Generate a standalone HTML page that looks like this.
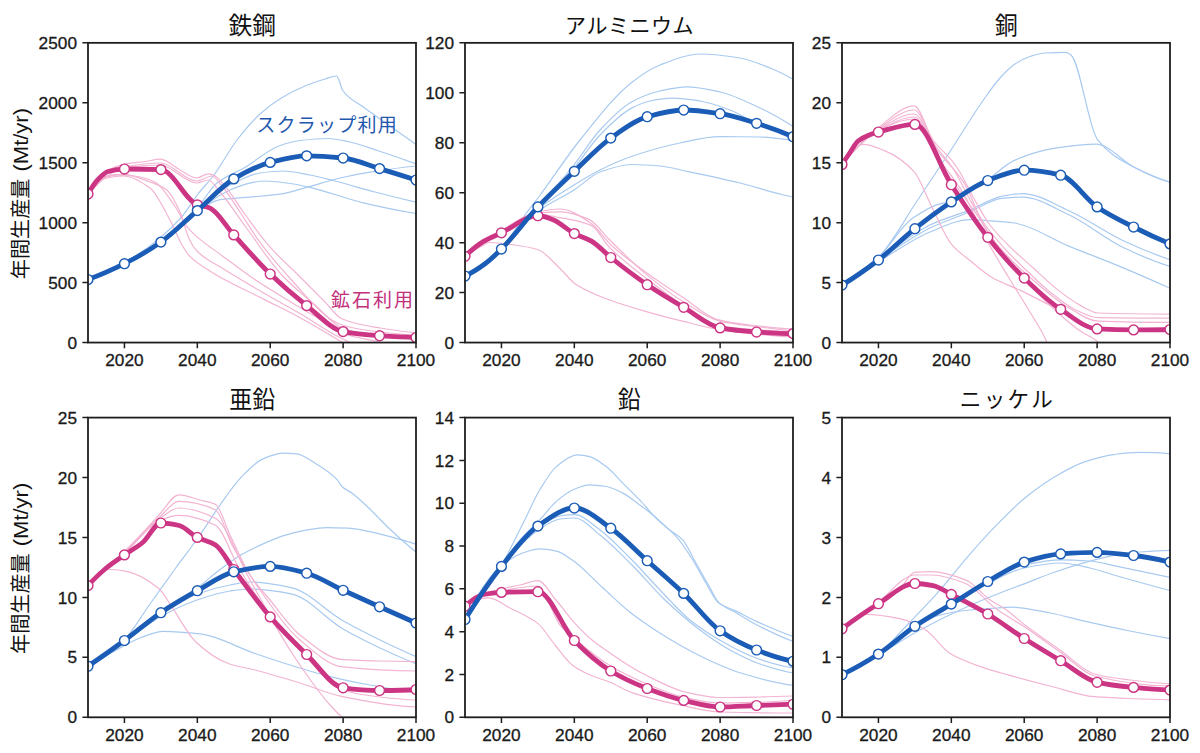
<!DOCTYPE html><html><head><meta charset="utf-8"><title>年間生産量</title><style>html,body{margin:0;padding:0;background:#fff;}svg{display:block;}.tk{font-family:"Liberation Sans",Arial,sans-serif;font-size:17px;fill:#1a1a1a;stroke:#1a1a1a;stroke-width:0.3px;}.tt{font-family:"Liberation Sans","Noto Sans CJK JP",sans-serif;font-size:21px;fill:#111;}.yl{font-family:"Liberation Sans","Noto Sans CJK JP",sans-serif;font-size:20.5px;fill:#111;}.an{font-family:"Liberation Sans","Noto Sans CJK JP",sans-serif;font-size:19px;}</style></head><body>
<svg width="1200" height="753" viewBox="0 0 1200 753">
<rect width="1200" height="753" fill="#fff"/>
<defs>
<clipPath id="c0"><rect x="88.00" y="42.85" width="328.00" height="299.70"/></clipPath>
<clipPath id="c1"><rect x="465.00" y="42.85" width="328.00" height="299.70"/></clipPath>
<clipPath id="c2"><rect x="842.00" y="42.85" width="328.00" height="299.70"/></clipPath>
<clipPath id="c3"><rect x="88.00" y="417.60" width="328.00" height="299.70"/></clipPath>
<clipPath id="c4"><rect x="465.00" y="417.60" width="328.00" height="299.70"/></clipPath>
<clipPath id="c5"><rect x="842.00" y="417.60" width="328.00" height="299.70"/></clipPath>
</defs>
<g clip-path="url(#c0)">
<path d="M88.00,279.00 C100.00,275.17 112.00,269.50 124.00,263.00 C136.00,256.50 148.00,247.88 160.00,238.00 C167.33,231.96 174.67,225.04 182.00,216.50 C187.33,210.29 192.67,200.87 198.00,194.00 C203.33,187.13 208.67,182.06 214.00,175.00 C221.67,164.85 229.33,149.95 237.00,140.00 C244.67,130.05 252.33,120.92 260.00,114.00 C266.83,107.83 273.67,102.65 280.50,98.50 C289.67,92.94 298.83,88.46 308.00,84.80 C313.67,82.54 319.33,80.66 325.00,79.00 C328.83,77.88 332.67,76.00 336.50,76.00 C337.33,76.00 338.17,78.30 339.00,80.00 C340.13,82.31 341.27,88.33 342.40,90.00 C349.27,100.14 356.13,101.57 363.00,106.80 C372.00,113.66 381.00,119.59 390.00,126.00 C398.87,132.32 407.73,138.65 416.60,145.00" fill="none" stroke="#a8caf0" stroke-width="1.2" stroke-linejoin="round"/>
<path d="M88.00,279.00 C100.00,274.67 112.00,269.18 124.00,263.00 C136.00,256.82 148.00,249.70 160.00,241.00 C172.33,232.06 184.67,221.06 197.00,208.00 C203.67,200.94 210.33,188.27 217.00,183.00 C226.53,175.46 236.07,172.67 245.60,167.00 C256.50,160.52 267.40,150.14 278.30,146.20 C285.53,143.58 292.77,141.33 300.00,140.50 C309.30,139.43 318.60,138.50 327.90,138.50 C335.27,138.50 342.63,140.48 350.00,142.00 C359.17,143.90 368.33,147.50 377.50,150.50 C390.33,154.70 403.17,159.19 416.00,164.00" fill="none" stroke="#a8caf0" stroke-width="1.2" stroke-linejoin="round"/>
<path d="M88.00,279.00 C100.00,274.50 112.00,269.05 124.00,263.00 C136.00,256.95 148.00,250.25 160.00,242.00 C172.33,233.52 184.67,218.49 197.00,211.00 C204.67,206.35 212.33,200.88 220.00,199.70 C228.53,198.39 237.07,198.18 245.60,197.40 C257.07,196.35 268.53,195.80 280.00,194.20 C288.90,192.96 297.80,189.69 306.70,187.30 C317.80,184.32 328.90,180.51 340.00,178.00 C351.07,175.50 362.13,173.44 373.20,171.70 C387.47,169.45 401.73,167.45 416.00,166.00" fill="none" stroke="#a8caf0" stroke-width="1.2" stroke-linejoin="round"/>
<path d="M88.00,279.00 C100.00,274.50 112.00,269.05 124.00,263.00 C136.00,256.95 148.00,250.35 160.00,242.00 C172.33,233.41 184.67,219.95 197.00,210.00 C208.00,201.13 219.00,190.73 230.00,185.00 C240.00,179.79 250.00,174.41 260.00,173.00 C267.53,171.94 275.07,171.00 282.60,171.00 C291.73,171.00 300.87,173.34 310.00,175.00 C318.33,176.52 326.67,178.88 335.00,181.00 C348.33,184.40 361.67,188.52 375.00,192.00 C388.67,195.57 402.33,198.98 416.00,202.20" fill="none" stroke="#a8caf0" stroke-width="1.2" stroke-linejoin="round"/>
<path d="M88.00,279.00 C100.00,274.50 112.00,269.05 124.00,263.00 C136.00,256.95 148.00,250.25 160.00,242.00 C172.33,233.52 184.67,219.90 197.00,211.00 C208.00,203.06 219.00,194.81 230.00,190.00 C236.67,187.09 243.33,184.45 250.00,183.10 C254.73,182.14 259.47,181.00 264.20,181.00 C272.80,181.00 281.40,182.37 290.00,183.50 C296.50,184.35 303.00,185.83 309.50,187.30 C327.43,191.36 345.37,198.64 363.30,202.90 C380.87,207.07 398.43,210.74 416.00,213.50" fill="none" stroke="#a8caf0" stroke-width="1.2" stroke-linejoin="round"/>
<path d="M88.00,194.00 C92.00,186.66 96.00,179.12 100.00,176.00 C108.07,169.70 116.13,165.83 124.20,164.20 C131.13,162.80 138.07,162.48 145.00,161.50 C150.17,160.77 155.33,159.10 160.50,159.10 C167.00,159.10 173.50,166.65 180.00,170.00 C185.57,172.87 191.13,178.00 196.70,178.00 C200.57,178.00 204.43,173.80 208.30,173.80 C210.53,173.80 212.77,174.92 215.00,176.00 C217.73,177.32 220.47,180.87 223.20,183.90 C230.97,192.51 238.73,206.03 246.50,216.50 C254.23,226.93 261.97,237.93 269.70,246.70 C279.00,257.24 288.30,265.20 297.60,274.50 C306.87,283.77 316.13,293.12 325.40,302.40 C330.83,307.84 336.27,316.39 341.70,318.70 C354.47,324.13 367.23,325.87 380.00,328.00 C392.00,330.00 404.00,331.74 416.00,332.60" fill="none" stroke="#f2b4d2" stroke-width="1.2" stroke-linejoin="round"/>
<path d="M88.00,194.00 C92.00,187.00 96.00,179.74 100.00,177.00 C108.00,171.52 116.00,168.45 124.00,167.00 C136.17,164.80 148.33,163.00 160.50,163.00 C172.57,163.00 184.63,181.00 196.70,181.00 C201.80,181.00 206.90,176.00 212.00,176.00 C215.33,176.00 218.67,182.13 222.00,186.00 C228.00,192.97 234.00,203.06 240.00,212.00 C246.00,220.94 252.00,231.51 258.00,239.70 C269.63,255.58 281.27,268.79 292.90,281.50 C305.27,295.01 317.63,310.61 330.00,318.70 C334.00,321.32 338.00,323.81 342.00,325.00 C354.67,328.77 367.33,330.55 380.00,332.00 C392.00,333.37 404.00,334.59 416.00,335.00" fill="none" stroke="#f2b4d2" stroke-width="1.2" stroke-linejoin="round"/>
<path d="M88.00,194.00 C100.00,181.50 112.00,169.79 124.00,168.00 C136.00,166.21 148.00,165.00 160.00,165.00 C172.23,165.00 184.47,183.00 196.70,183.00 C200.47,183.00 204.23,180.00 208.00,180.00 C212.00,180.00 216.00,187.48 220.00,192.00 C228.83,201.99 237.67,216.09 246.50,228.00 C258.10,243.63 269.70,261.99 281.30,274.50 C292.53,286.61 303.77,295.15 315.00,305.00 C324.00,312.89 333.00,324.85 342.00,328.00 C354.67,332.43 367.33,334.89 380.00,336.00 C392.00,337.05 404.00,338.00 416.00,338.00" fill="none" stroke="#f2b4d2" stroke-width="1.2" stroke-linejoin="round"/>
<path d="M88.00,194.00 C92.00,186.77 96.00,179.49 100.00,178.00 C105.50,175.96 111.00,174.60 116.50,174.60 C124.33,174.60 132.17,175.72 140.00,177.00 C145.10,177.84 150.20,179.61 155.30,182.30 C161.87,185.77 168.43,197.12 175.00,206.50 C179.13,212.41 183.27,221.98 187.40,227.10 C190.83,231.35 194.27,234.40 197.70,237.40 C205.93,244.59 214.17,249.80 222.40,255.90 C232.70,263.53 243.00,271.56 253.30,278.50 C268.87,289.00 284.43,297.98 300.00,307.40 C311.57,314.40 323.13,320.53 334.70,328.00 C337.13,329.57 339.57,332.04 342.00,333.00 C354.67,338.01 367.33,338.91 380.00,342.00 C386.67,343.63 393.33,345.30 400.00,347.00" fill="none" stroke="#f2b4d2" stroke-width="1.2" stroke-linejoin="round"/>
<path d="M88.00,194.00 C92.00,187.58 96.00,180.39 100.00,179.00 C108.07,176.20 116.13,174.60 124.20,174.60 C132.80,174.60 141.40,178.87 150.00,182.00 C155.60,184.04 161.20,185.76 166.80,190.00 C171.20,193.33 175.60,202.52 180.00,212.00 C183.13,218.75 186.27,233.25 189.40,239.40 C192.17,244.83 194.93,249.07 197.70,251.80 C205.93,259.91 214.17,263.07 222.40,268.30 C236.13,277.02 249.87,285.01 263.60,293.00 C275.73,300.06 287.87,306.47 300.00,313.60 C311.67,320.46 323.33,328.77 335.00,335.00 C343.33,339.45 351.67,343.46 360.00,347.00" fill="none" stroke="#f2b4d2" stroke-width="1.2" stroke-linejoin="round"/>
<path d="M88.00,194.00 C92.00,188.00 96.00,181.27 100.00,180.00 C108.00,177.45 116.00,176.00 124.00,176.00 C132.67,176.00 141.33,181.64 150.00,188.00 C156.67,192.89 163.33,207.80 170.00,220.00 C174.00,227.32 178.00,238.19 182.00,245.00 C184.47,249.20 186.93,253.35 189.40,255.90 C196.97,263.71 204.53,267.72 212.10,272.40 C229.27,283.02 246.43,290.27 263.60,299.10 C275.73,305.34 287.87,311.11 300.00,317.70 C310.00,323.13 320.00,329.11 330.00,335.00 C336.67,338.93 343.33,342.94 350.00,347.00" fill="none" stroke="#f2b4d2" stroke-width="1.2" stroke-linejoin="round"/>
<path d="M88.00,194.00 C91.64,187.54 95.29,182.10 98.93,178.50 C101.97,175.50 105.01,172.33 108.04,171.50 C113.51,170.01 118.98,169.00 124.44,169.00 C136.59,169.00 148.74,169.21 160.89,169.60 C173.04,169.99 185.19,200.42 197.33,204.80 C201.34,206.25 205.35,206.28 209.36,207.80 C217.50,210.89 225.64,226.01 233.78,234.90 C245.93,248.17 258.07,262.35 270.22,274.00 C282.37,285.65 294.52,296.09 306.67,305.60 C318.81,315.11 330.96,329.24 343.11,331.60 C355.26,333.96 367.41,334.87 379.56,335.70 C391.70,336.53 403.85,337.28 416.00,337.50" fill="none" stroke="#cc3584" stroke-width="4.8" stroke-linejoin="round" stroke-linecap="round"/>
<circle cx="88.00" cy="194.00" r="4.9" fill="#fff" stroke="#cc3584" stroke-width="1.45"/>
<circle cx="124.44" cy="169.00" r="4.9" fill="#fff" stroke="#cc3584" stroke-width="1.45"/>
<circle cx="160.89" cy="169.60" r="4.9" fill="#fff" stroke="#cc3584" stroke-width="1.45"/>
<circle cx="197.33" cy="204.80" r="4.9" fill="#fff" stroke="#cc3584" stroke-width="1.45"/>
<circle cx="233.78" cy="234.90" r="4.9" fill="#fff" stroke="#cc3584" stroke-width="1.45"/>
<circle cx="270.22" cy="274.00" r="4.9" fill="#fff" stroke="#cc3584" stroke-width="1.45"/>
<circle cx="306.67" cy="305.60" r="4.9" fill="#fff" stroke="#cc3584" stroke-width="1.45"/>
<circle cx="343.11" cy="331.60" r="4.9" fill="#fff" stroke="#cc3584" stroke-width="1.45"/>
<circle cx="379.56" cy="335.70" r="4.9" fill="#fff" stroke="#cc3584" stroke-width="1.45"/>
<circle cx="416.00" cy="337.50" r="4.9" fill="#fff" stroke="#cc3584" stroke-width="1.45"/>
<path d="M88.00,279.50 C100.15,275.20 112.30,269.78 124.44,263.70 C136.59,257.62 148.74,250.64 160.89,242.10 C173.04,233.56 185.19,221.13 197.33,210.60 C209.48,200.07 221.63,186.13 233.78,178.90 C245.93,171.67 258.07,165.54 270.22,162.40 C282.37,159.26 294.52,155.80 306.67,155.80 C318.81,155.80 330.96,156.79 343.11,158.00 C355.26,159.21 367.41,164.94 379.56,168.60 C391.70,172.26 403.85,176.07 416.00,180.00" fill="none" stroke="#1b5cb6" stroke-width="4.8" stroke-linejoin="round" stroke-linecap="round"/>
<circle cx="88.00" cy="279.50" r="4.9" fill="#fff" stroke="#1b5cb6" stroke-width="1.45"/>
<circle cx="124.44" cy="263.70" r="4.9" fill="#fff" stroke="#1b5cb6" stroke-width="1.45"/>
<circle cx="160.89" cy="242.10" r="4.9" fill="#fff" stroke="#1b5cb6" stroke-width="1.45"/>
<circle cx="197.33" cy="210.60" r="4.9" fill="#fff" stroke="#1b5cb6" stroke-width="1.45"/>
<circle cx="233.78" cy="178.90" r="4.9" fill="#fff" stroke="#1b5cb6" stroke-width="1.45"/>
<circle cx="270.22" cy="162.40" r="4.9" fill="#fff" stroke="#1b5cb6" stroke-width="1.45"/>
<circle cx="306.67" cy="155.80" r="4.9" fill="#fff" stroke="#1b5cb6" stroke-width="1.45"/>
<circle cx="343.11" cy="158.00" r="4.9" fill="#fff" stroke="#1b5cb6" stroke-width="1.45"/>
<circle cx="379.56" cy="168.60" r="4.9" fill="#fff" stroke="#1b5cb6" stroke-width="1.45"/>
<circle cx="416.00" cy="180.00" r="4.9" fill="#fff" stroke="#1b5cb6" stroke-width="1.45"/>
</g>
<rect x="88.00" y="42.85" width="328.00" height="299.70" fill="none" stroke="#1e1e1e" stroke-width="1.8"/>
<path d="M124.44,342.55v5.6M197.33,342.55v5.6M270.22,342.55v5.6M343.11,342.55v5.6M416.00,342.55v5.6M88.00,342.55h-5.6M88.00,282.61h-5.6M88.00,222.67h-5.6M88.00,162.73h-5.6M88.00,102.79h-5.6M88.00,42.85h-5.6" stroke="#1e1e1e" stroke-width="1.5" fill="none"/>
<text class="tk" x="124.44" y="365.75" text-anchor="middle" textLength="38.4" lengthAdjust="spacingAndGlyphs">2020</text>
<text class="tk" x="197.33" y="365.75" text-anchor="middle" textLength="38.4" lengthAdjust="spacingAndGlyphs">2040</text>
<text class="tk" x="270.22" y="365.75" text-anchor="middle" textLength="38.4" lengthAdjust="spacingAndGlyphs">2060</text>
<text class="tk" x="343.11" y="365.75" text-anchor="middle" textLength="38.4" lengthAdjust="spacingAndGlyphs">2080</text>
<text class="tk" x="416.00" y="365.75" text-anchor="middle" textLength="38.4" lengthAdjust="spacingAndGlyphs">2100</text>
<text class="tk" x="77.00" y="348.65" text-anchor="end" textLength="9.6" lengthAdjust="spacingAndGlyphs">0</text>
<text class="tk" x="77.00" y="288.71" text-anchor="end" textLength="28.8" lengthAdjust="spacingAndGlyphs">500</text>
<text class="tk" x="77.00" y="228.77" text-anchor="end" textLength="38.4" lengthAdjust="spacingAndGlyphs">1000</text>
<text class="tk" x="77.00" y="168.83" text-anchor="end" textLength="38.4" lengthAdjust="spacingAndGlyphs">1500</text>
<text class="tk" x="77.00" y="108.89" text-anchor="end" textLength="38.4" lengthAdjust="spacingAndGlyphs">2000</text>
<text class="tk" x="77.00" y="48.95" text-anchor="end" textLength="38.4" lengthAdjust="spacingAndGlyphs">2500</text>
<text class="tt" x="252.30" y="33.65" text-anchor="middle" style="font-size:24.0px" textLength="47.5" lengthAdjust="spacingAndGlyphs">鉄鋼</text>
<g clip-path="url(#c1)">
<path d="M465.00,276.00 C477.00,271.80 489.00,261.02 501.00,249.00 C509.00,240.99 517.00,225.88 525.00,215.00 C530.07,208.11 535.13,201.81 540.20,195.00 C553.47,177.18 566.73,156.42 580.00,140.00 C597.33,118.54 614.67,95.53 632.00,82.20 C641.33,75.02 650.67,68.57 660.00,65.00 C673.67,59.77 687.33,54.00 701.00,54.00 C714.00,54.00 727.00,55.91 740.00,58.00 C750.00,59.61 760.00,64.02 770.00,68.00 C777.67,71.05 785.33,74.90 793.00,79.10" fill="none" stroke="#a8caf0" stroke-width="1.2" stroke-linejoin="round"/>
<path d="M465.00,276.00 C477.00,269.33 489.00,259.85 501.00,249.00 C513.00,238.15 525.00,221.80 537.00,208.00 C549.33,193.81 561.67,180.45 574.00,165.00 C582.67,154.14 591.33,139.32 600.00,130.00 C610.67,118.53 621.33,107.34 632.00,101.70 C641.33,96.76 650.67,93.04 660.00,91.00 C668.90,89.06 677.80,86.90 686.70,86.90 C697.80,86.90 708.90,89.57 720.00,92.00 C733.33,94.91 746.67,101.76 760.00,108.00 C771.00,113.15 782.00,119.48 793.00,126.40" fill="none" stroke="#a8caf0" stroke-width="1.2" stroke-linejoin="round"/>
<path d="M465.00,276.00 C477.00,269.33 489.00,259.85 501.00,249.00 C513.00,238.15 525.00,221.31 537.00,208.00 C549.33,194.32 561.67,182.47 574.00,168.00 C582.67,157.83 591.33,143.87 600.00,135.00 C610.67,124.09 621.33,113.34 632.00,107.90 C638.00,104.84 644.00,102.16 650.00,101.00 C657.43,99.57 664.87,98.20 672.30,98.20 C681.53,98.20 690.77,99.61 700.00,101.00 C710.00,102.50 720.00,106.22 730.00,110.00 C738.20,113.10 746.40,118.71 754.60,122.30 C767.40,127.90 780.20,133.01 793.00,137.00" fill="none" stroke="#a8caf0" stroke-width="1.2" stroke-linejoin="round"/>
<path d="M465.00,276.00 C477.00,269.00 489.00,259.64 501.00,249.00 C513.00,238.36 525.00,220.00 537.00,210.00 C549.33,199.72 561.67,192.64 574.00,185.00 C582.67,179.63 591.33,174.28 600.00,170.00 C610.67,164.73 621.33,159.94 632.00,156.30 C648.00,150.84 664.00,146.21 680.00,143.00 C693.20,140.35 706.40,136.70 719.60,136.70 C733.07,136.70 746.53,136.81 760.00,137.00 C771.00,137.16 782.00,138.79 793.00,140.40" fill="none" stroke="#a8caf0" stroke-width="1.2" stroke-linejoin="round"/>
<path d="M465.00,276.00 C477.00,268.67 489.00,259.41 501.00,249.00 C513.00,238.59 525.00,221.05 537.00,212.00 C549.33,202.70 561.67,197.93 574.00,190.00 C582.67,184.43 591.33,175.09 600.00,172.00 C610.67,168.20 621.33,164.50 632.00,164.50 C641.33,164.50 650.67,165.21 660.00,166.00 C669.57,166.81 679.13,169.71 688.70,171.70 C705.80,175.25 722.90,178.79 740.00,183.00 C754.47,186.56 768.93,191.66 783.40,195.00 C786.60,195.74 789.80,196.37 793.00,197.00" fill="none" stroke="#a8caf0" stroke-width="1.2" stroke-linejoin="round"/>
<path d="M465.00,256.00 C470.00,252.55 475.00,249.55 480.00,247.00 C483.33,245.30 486.67,242.50 490.00,242.50 C497.13,242.50 504.27,243.61 511.40,244.50 C520.30,245.61 529.20,246.81 538.10,249.70 C545.40,252.07 552.70,261.73 560.00,268.50 C565.23,273.36 570.47,280.71 575.70,284.20 C586.80,291.60 597.90,295.59 609.00,299.80 C621.40,304.51 633.80,308.03 646.20,311.60 C658.60,315.17 671.00,318.33 683.40,321.40 C694.50,324.15 705.60,327.35 716.70,329.20 C727.80,331.05 738.90,332.38 750.00,333.50 C764.33,334.95 778.67,336.22 793.00,337.00" fill="none" stroke="#f2b4d2" stroke-width="1.2" stroke-linejoin="round"/>
<path d="M465.00,256.00 C477.00,246.67 489.00,238.20 501.00,231.00 C513.00,223.80 525.00,214.40 537.00,212.00 C544.67,210.46 552.33,209.00 560.00,209.00 C570.43,209.00 580.87,216.50 591.30,223.50 C597.87,227.91 604.43,238.94 611.00,245.00 C622.73,255.83 634.47,263.86 646.20,272.40 C658.60,281.43 671.00,289.57 683.40,297.80 C694.50,305.16 705.60,316.30 716.70,319.30 C727.80,322.30 738.90,323.65 750.00,325.00 C764.33,326.75 778.67,328.30 793.00,329.00" fill="none" stroke="#f2b4d2" stroke-width="1.2" stroke-linejoin="round"/>
<path d="M465.00,256.00 C477.00,246.50 489.00,237.98 501.00,231.00 C513.00,224.02 525.00,214.07 537.00,213.00 C544.67,212.32 552.33,211.80 560.00,211.80 C569.80,211.80 579.60,215.32 589.40,219.60 C595.93,222.45 602.47,232.83 609.00,239.20 C621.40,251.29 633.80,264.13 646.20,274.40 C658.60,284.67 671.00,294.18 683.40,301.80 C695.80,309.42 708.20,318.61 720.60,321.40 C733.73,324.36 746.87,325.24 760.00,327.00 C771.00,328.47 782.00,329.87 793.00,331.20" fill="none" stroke="#f2b4d2" stroke-width="1.2" stroke-linejoin="round"/>
<path d="M465.00,256.00 C477.00,247.00 489.00,238.86 501.00,232.00 C513.00,225.14 525.00,214.00 537.00,214.00 C544.67,214.00 552.33,216.14 560.00,217.60 C570.43,219.58 580.87,220.80 591.30,225.40 C597.20,228.00 603.10,240.90 609.00,246.90 C621.40,259.52 633.80,268.55 646.20,278.30 C658.60,288.05 671.00,297.60 683.40,305.70 C694.50,312.95 705.60,323.20 716.70,325.30 C731.13,328.03 745.57,328.89 760.00,330.00 C771.00,330.84 782.00,331.56 793.00,332.00" fill="none" stroke="#f2b4d2" stroke-width="1.2" stroke-linejoin="round"/>
<path d="M465.00,256.30 C471.07,250.42 477.15,245.27 483.22,241.60 C489.30,237.93 495.37,235.70 501.44,232.80 C513.59,227.01 525.74,215.70 537.89,215.70 C542.75,215.70 547.61,217.75 552.47,219.50 C559.76,222.13 567.04,229.83 574.33,233.60 C580.04,236.56 585.75,237.82 591.46,241.10 C597.90,244.80 604.34,252.35 610.78,257.50 C622.93,267.21 635.07,276.47 647.22,284.70 C659.37,292.93 671.52,300.12 683.67,307.30 C695.81,314.48 707.96,325.62 720.11,327.90 C732.26,330.18 744.41,331.23 756.56,332.00 C768.70,332.77 780.85,333.48 793.00,333.60" fill="none" stroke="#cc3584" stroke-width="4.8" stroke-linejoin="round" stroke-linecap="round"/>
<circle cx="465.00" cy="256.30" r="4.9" fill="#fff" stroke="#cc3584" stroke-width="1.45"/>
<circle cx="501.44" cy="232.80" r="4.9" fill="#fff" stroke="#cc3584" stroke-width="1.45"/>
<circle cx="537.89" cy="215.70" r="4.9" fill="#fff" stroke="#cc3584" stroke-width="1.45"/>
<circle cx="574.33" cy="233.60" r="4.9" fill="#fff" stroke="#cc3584" stroke-width="1.45"/>
<circle cx="610.78" cy="257.50" r="4.9" fill="#fff" stroke="#cc3584" stroke-width="1.45"/>
<circle cx="647.22" cy="284.70" r="4.9" fill="#fff" stroke="#cc3584" stroke-width="1.45"/>
<circle cx="683.67" cy="307.30" r="4.9" fill="#fff" stroke="#cc3584" stroke-width="1.45"/>
<circle cx="720.11" cy="327.90" r="4.9" fill="#fff" stroke="#cc3584" stroke-width="1.45"/>
<circle cx="756.56" cy="332.00" r="4.9" fill="#fff" stroke="#cc3584" stroke-width="1.45"/>
<circle cx="793.00" cy="333.60" r="4.9" fill="#fff" stroke="#cc3584" stroke-width="1.45"/>
<path d="M465.00,276.00 C471.80,272.94 478.61,268.51 485.41,263.50 C490.75,259.57 496.10,254.34 501.44,249.00 C513.59,236.87 525.74,219.76 537.89,206.90 C550.04,194.04 562.19,182.75 574.33,171.30 C586.48,159.85 598.63,146.77 610.78,138.10 C622.93,129.43 635.07,120.10 647.22,116.70 C659.37,113.30 671.52,110.00 683.67,110.00 C695.81,110.00 707.96,111.92 720.11,113.70 C732.26,115.48 744.41,119.57 756.56,123.30 C768.70,127.03 780.85,131.60 793.00,136.70" fill="none" stroke="#1b5cb6" stroke-width="4.8" stroke-linejoin="round" stroke-linecap="round"/>
<circle cx="465.00" cy="276.00" r="4.9" fill="#fff" stroke="#1b5cb6" stroke-width="1.45"/>
<circle cx="501.44" cy="249.00" r="4.9" fill="#fff" stroke="#1b5cb6" stroke-width="1.45"/>
<circle cx="537.89" cy="206.90" r="4.9" fill="#fff" stroke="#1b5cb6" stroke-width="1.45"/>
<circle cx="574.33" cy="171.30" r="4.9" fill="#fff" stroke="#1b5cb6" stroke-width="1.45"/>
<circle cx="610.78" cy="138.10" r="4.9" fill="#fff" stroke="#1b5cb6" stroke-width="1.45"/>
<circle cx="647.22" cy="116.70" r="4.9" fill="#fff" stroke="#1b5cb6" stroke-width="1.45"/>
<circle cx="683.67" cy="110.00" r="4.9" fill="#fff" stroke="#1b5cb6" stroke-width="1.45"/>
<circle cx="720.11" cy="113.70" r="4.9" fill="#fff" stroke="#1b5cb6" stroke-width="1.45"/>
<circle cx="756.56" cy="123.30" r="4.9" fill="#fff" stroke="#1b5cb6" stroke-width="1.45"/>
<circle cx="793.00" cy="136.70" r="4.9" fill="#fff" stroke="#1b5cb6" stroke-width="1.45"/>
</g>
<rect x="465.00" y="42.85" width="328.00" height="299.70" fill="none" stroke="#1e1e1e" stroke-width="1.8"/>
<path d="M501.44,342.55v5.6M574.33,342.55v5.6M647.22,342.55v5.6M720.11,342.55v5.6M793.00,342.55v5.6M465.00,342.55h-5.6M465.00,292.60h-5.6M465.00,242.65h-5.6M465.00,192.70h-5.6M465.00,142.75h-5.6M465.00,92.80h-5.6M465.00,42.85h-5.6" stroke="#1e1e1e" stroke-width="1.5" fill="none"/>
<text class="tk" x="501.44" y="365.75" text-anchor="middle" textLength="38.4" lengthAdjust="spacingAndGlyphs">2020</text>
<text class="tk" x="574.33" y="365.75" text-anchor="middle" textLength="38.4" lengthAdjust="spacingAndGlyphs">2040</text>
<text class="tk" x="647.22" y="365.75" text-anchor="middle" textLength="38.4" lengthAdjust="spacingAndGlyphs">2060</text>
<text class="tk" x="720.11" y="365.75" text-anchor="middle" textLength="38.4" lengthAdjust="spacingAndGlyphs">2080</text>
<text class="tk" x="793.00" y="365.75" text-anchor="middle" textLength="38.4" lengthAdjust="spacingAndGlyphs">2100</text>
<text class="tk" x="454.00" y="348.65" text-anchor="end" textLength="9.6" lengthAdjust="spacingAndGlyphs">0</text>
<text class="tk" x="454.00" y="298.70" text-anchor="end" textLength="19.2" lengthAdjust="spacingAndGlyphs">20</text>
<text class="tk" x="454.00" y="248.75" text-anchor="end" textLength="19.2" lengthAdjust="spacingAndGlyphs">40</text>
<text class="tk" x="454.00" y="198.80" text-anchor="end" textLength="19.2" lengthAdjust="spacingAndGlyphs">60</text>
<text class="tk" x="454.00" y="148.85" text-anchor="end" textLength="19.2" lengthAdjust="spacingAndGlyphs">80</text>
<text class="tk" x="454.00" y="98.90" text-anchor="end" textLength="28.8" lengthAdjust="spacingAndGlyphs">100</text>
<text class="tk" x="454.00" y="48.95" text-anchor="end" textLength="28.8" lengthAdjust="spacingAndGlyphs">120</text>
<text class="tt" x="629.30" y="33.05" text-anchor="middle" style="font-size:21.0px" textLength="128.5" lengthAdjust="spacing">アルミニウム</text>
<g clip-path="url(#c2)">
<path d="M842.00,285.00 C854.00,280.06 866.00,269.83 878.00,258.00 C891.23,244.95 904.47,219.61 917.70,200.00 C928.47,184.05 939.23,167.88 950.00,151.50 C961.13,134.56 972.27,115.74 983.40,100.00 C988.93,92.18 994.47,84.04 1000.00,78.00 C1005.00,72.54 1010.00,67.26 1015.00,64.00 C1020.00,60.74 1025.00,58.09 1030.00,56.50 C1035.00,54.91 1040.00,53.30 1045.00,53.00 C1052.00,52.57 1059.00,52.30 1066.00,52.30 C1067.67,52.30 1069.33,53.68 1071.00,55.00 C1079.87,62.05 1088.73,128.66 1097.60,139.80 C1109.77,155.08 1121.93,160.67 1134.10,167.20 C1146.07,173.62 1158.03,179.18 1170.00,182.20" fill="none" stroke="#a8caf0" stroke-width="1.2" stroke-linejoin="round"/>
<path d="M842.00,285.00 C854.00,277.17 866.00,268.43 878.00,259.00 C890.00,249.57 902.00,237.43 914.00,228.00 C926.23,218.39 938.47,209.46 950.70,201.50 C962.80,193.63 974.90,187.88 987.00,180.00 C996.13,174.06 1005.27,164.36 1014.40,160.40 C1028.00,154.51 1041.60,150.25 1055.20,148.20 C1068.80,146.15 1082.40,144.10 1096.00,144.10 C1108.70,144.10 1121.40,160.93 1134.10,167.20 C1146.07,173.11 1158.03,178.29 1170.00,182.20" fill="none" stroke="#a8caf0" stroke-width="1.2" stroke-linejoin="round"/>
<path d="M842.00,285.00 C854.00,278.50 866.00,268.94 878.00,258.00 C889.37,247.64 900.73,226.61 912.10,218.60 C922.03,211.60 931.97,205.37 941.90,203.30 C944.83,202.69 947.77,202.19 950.70,202.00" fill="none" stroke="#a8caf0" stroke-width="1.2" stroke-linejoin="round"/>
<path d="M842.00,285.00 C856.17,274.55 870.33,264.46 884.50,254.80 C899.67,244.46 914.83,232.21 930.00,225.00 C943.17,218.74 956.33,215.42 969.50,210.10 C980.13,205.80 990.77,198.32 1001.40,196.30 C1008.47,194.96 1015.53,193.60 1022.60,193.60 C1038.00,193.60 1053.40,203.92 1068.80,210.70 C1086.97,218.70 1105.13,232.23 1123.30,240.70 C1138.87,247.96 1154.43,254.40 1170.00,259.70" fill="none" stroke="#a8caf0" stroke-width="1.2" stroke-linejoin="round"/>
<path d="M842.00,285.00 C856.17,274.88 870.33,265.17 884.50,256.00 C899.67,246.18 914.83,235.37 930.00,228.00 C943.17,221.60 956.33,217.47 969.50,212.00 C980.13,207.58 990.77,199.49 1001.40,198.40 C1008.47,197.68 1015.53,197.10 1022.60,197.10 C1038.00,197.10 1053.40,207.64 1068.80,214.80 C1086.97,223.24 1105.13,238.73 1123.30,247.50 C1138.87,255.01 1154.43,261.55 1170.00,266.50" fill="none" stroke="#a8caf0" stroke-width="1.2" stroke-linejoin="round"/>
<path d="M842.00,285.00 C856.17,275.56 870.33,266.53 884.50,258.00 C899.67,248.87 914.83,238.07 930.00,232.00 C943.17,226.73 956.33,219.70 969.50,219.70 C976.60,219.70 983.70,220.33 990.80,220.80 C998.67,221.32 1006.53,221.89 1014.40,223.00 C1032.53,225.56 1050.67,238.63 1068.80,246.10 C1086.97,253.58 1105.13,260.30 1123.30,267.90 C1138.87,274.41 1154.43,281.24 1170.00,288.30" fill="none" stroke="#a8caf0" stroke-width="1.2" stroke-linejoin="round"/>
<path d="M842.00,164.50 C849.10,153.33 856.20,144.30 863.30,144.30 C870.37,144.30 877.43,147.70 884.50,150.60 C894.43,154.68 904.37,160.97 914.30,171.90 C919.97,178.14 925.63,194.86 931.30,205.90 C938.07,219.08 944.83,236.33 951.60,244.40 C957.80,251.79 964.00,255.59 970.20,260.70 C977.20,266.47 984.20,272.89 991.20,277.00 C1001.27,282.91 1011.33,286.06 1021.40,290.90 C1029.17,294.64 1036.93,298.71 1044.70,302.60 C1052.43,306.47 1060.17,310.49 1067.90,314.20 C1077.97,319.03 1088.03,327.53 1098.10,328.10 C1122.07,329.46 1146.03,330.00 1170.00,330.00" fill="none" stroke="#f2b4d2" stroke-width="1.2" stroke-linejoin="round"/>
<path d="M842.00,164.50 C854.00,149.94 866.00,137.19 878.00,128.00 C890.03,118.79 902.07,105.80 914.10,105.80 C920.40,105.80 926.70,131.41 933.00,140.00 C939.50,148.87 946.00,153.07 952.50,161.30 C954.53,163.88 956.57,166.79 958.60,170.00 C964.03,178.59 969.47,190.65 974.90,200.20 C979.53,208.34 984.17,217.24 988.80,223.50 C995.80,232.95 1002.80,239.72 1009.80,246.70 C1017.53,254.41 1025.27,260.73 1033.00,267.70 C1040.77,274.70 1048.53,282.48 1056.30,288.60 C1064.03,294.69 1071.77,300.78 1079.50,304.90 C1085.70,308.21 1091.90,312.78 1098.10,313.00 C1122.07,313.87 1146.03,314.10 1170.00,314.10" fill="none" stroke="#f2b4d2" stroke-width="1.2" stroke-linejoin="round"/>
<path d="M842.00,164.50 C854.00,149.92 866.00,137.25 878.00,129.00 C890.00,120.75 902.00,110.00 914.00,110.00 C921.00,110.00 928.00,134.73 935.00,145.00 C941.33,154.30 947.67,160.18 954.00,170.00 C959.40,178.37 964.80,190.72 970.20,200.20 C974.87,208.40 979.53,216.85 984.20,223.50 C991.17,233.43 998.13,241.43 1005.10,249.10 C1012.87,257.65 1020.63,264.94 1028.40,272.30 C1036.13,279.63 1043.87,287.22 1051.60,293.30 C1059.37,299.41 1067.13,305.86 1074.90,309.50 C1082.63,313.12 1090.37,317.57 1098.10,317.70 C1122.07,318.09 1146.03,318.20 1170.00,318.20" fill="none" stroke="#f2b4d2" stroke-width="1.2" stroke-linejoin="round"/>
<path d="M842.00,164.50 C854.00,149.92 866.00,137.29 878.00,130.00 C890.00,122.71 902.00,114.00 914.00,114.00 C921.67,114.00 929.33,139.55 937.00,150.00 C945.77,161.95 954.53,168.10 963.30,181.60 C971.03,193.50 978.77,218.69 986.50,230.50 C994.27,242.36 1002.03,250.30 1009.80,258.40 C1019.10,268.10 1028.40,276.21 1037.70,284.00 C1047.77,292.43 1057.83,301.38 1067.90,307.20 C1077.97,313.02 1088.03,320.83 1098.10,321.20 C1122.07,322.08 1146.03,322.40 1170.00,322.40" fill="none" stroke="#f2b4d2" stroke-width="1.2" stroke-linejoin="round"/>
<path d="M842.00,164.50 C854.00,150.08 866.00,137.58 878.00,131.00 C890.00,124.42 902.00,117.00 914.00,117.00 C922.67,117.00 931.33,146.73 940.00,160.00 C947.77,171.89 955.53,180.34 963.30,193.30 C971.03,206.21 978.77,225.59 986.50,239.80 C994.27,254.07 1002.03,266.43 1009.80,279.30 C1016.00,289.58 1022.20,299.16 1028.40,309.50 C1033.83,318.56 1039.27,326.28 1044.70,337.40 C1046.47,341.02 1048.23,345.51 1050.00,350.00" fill="none" stroke="#f2b4d2" stroke-width="1.2" stroke-linejoin="round"/>
<path d="M842.00,164.50 C854.00,149.75 866.00,136.89 878.00,131.00 C890.00,125.11 902.00,119.00 914.00,119.00 C924.33,119.00 934.67,154.37 945.00,170.00 C954.97,185.08 964.93,197.64 974.90,211.90 C986.53,228.55 998.17,248.65 1009.80,263.00 C1021.43,277.35 1033.07,289.05 1044.70,300.20 C1056.30,311.32 1067.90,322.21 1079.50,330.50 C1085.70,334.93 1091.90,336.86 1098.10,342.10 C1100.40,344.04 1102.70,347.04 1105.00,350.00" fill="none" stroke="#f2b4d2" stroke-width="1.2" stroke-linejoin="round"/>
<path d="M842.00,164.50 C844.67,160.42 847.35,156.41 850.02,152.50 C852.69,148.59 855.36,143.17 858.04,141.00 C861.56,138.15 865.08,136.63 868.60,135.20 C871.88,133.86 875.16,132.87 878.44,132.00 C890.59,128.78 902.74,124.40 914.89,124.40 C927.04,124.40 939.19,165.97 951.33,184.70 C963.48,203.43 975.63,221.98 987.78,237.30 C999.93,252.62 1012.07,266.31 1024.22,278.10 C1036.37,289.89 1048.52,301.27 1060.67,309.30 C1072.81,317.33 1084.96,328.27 1097.11,328.90 C1109.26,329.53 1121.41,329.90 1133.56,329.90 C1145.70,329.90 1157.85,329.87 1170.00,329.50" fill="none" stroke="#cc3584" stroke-width="4.8" stroke-linejoin="round" stroke-linecap="round"/>
<circle cx="842.00" cy="164.50" r="4.9" fill="#fff" stroke="#cc3584" stroke-width="1.45"/>
<circle cx="878.44" cy="132.00" r="4.9" fill="#fff" stroke="#cc3584" stroke-width="1.45"/>
<circle cx="914.89" cy="124.40" r="4.9" fill="#fff" stroke="#cc3584" stroke-width="1.45"/>
<circle cx="951.33" cy="184.70" r="4.9" fill="#fff" stroke="#cc3584" stroke-width="1.45"/>
<circle cx="987.78" cy="237.30" r="4.9" fill="#fff" stroke="#cc3584" stroke-width="1.45"/>
<circle cx="1024.22" cy="278.10" r="4.9" fill="#fff" stroke="#cc3584" stroke-width="1.45"/>
<circle cx="1060.67" cy="309.30" r="4.9" fill="#fff" stroke="#cc3584" stroke-width="1.45"/>
<circle cx="1097.11" cy="328.90" r="4.9" fill="#fff" stroke="#cc3584" stroke-width="1.45"/>
<circle cx="1133.56" cy="329.90" r="4.9" fill="#fff" stroke="#cc3584" stroke-width="1.45"/>
<circle cx="1170.00" cy="329.50" r="4.9" fill="#fff" stroke="#cc3584" stroke-width="1.45"/>
<path d="M842.00,285.10 C854.15,277.77 866.30,269.29 878.44,260.00 C890.59,250.71 902.74,238.33 914.89,228.70 C927.04,219.07 939.19,209.83 951.33,201.90 C963.48,193.97 975.63,185.14 987.78,180.50 C999.93,175.86 1012.07,170.20 1024.22,170.20 C1036.37,170.20 1048.52,172.32 1060.67,175.20 C1072.81,178.08 1084.96,198.70 1097.11,206.90 C1109.26,215.10 1121.41,220.88 1133.56,227.00 C1145.70,233.12 1157.85,238.80 1170.00,243.90" fill="none" stroke="#1b5cb6" stroke-width="4.8" stroke-linejoin="round" stroke-linecap="round"/>
<circle cx="842.00" cy="285.10" r="4.9" fill="#fff" stroke="#1b5cb6" stroke-width="1.45"/>
<circle cx="878.44" cy="260.00" r="4.9" fill="#fff" stroke="#1b5cb6" stroke-width="1.45"/>
<circle cx="914.89" cy="228.70" r="4.9" fill="#fff" stroke="#1b5cb6" stroke-width="1.45"/>
<circle cx="951.33" cy="201.90" r="4.9" fill="#fff" stroke="#1b5cb6" stroke-width="1.45"/>
<circle cx="987.78" cy="180.50" r="4.9" fill="#fff" stroke="#1b5cb6" stroke-width="1.45"/>
<circle cx="1024.22" cy="170.20" r="4.9" fill="#fff" stroke="#1b5cb6" stroke-width="1.45"/>
<circle cx="1060.67" cy="175.20" r="4.9" fill="#fff" stroke="#1b5cb6" stroke-width="1.45"/>
<circle cx="1097.11" cy="206.90" r="4.9" fill="#fff" stroke="#1b5cb6" stroke-width="1.45"/>
<circle cx="1133.56" cy="227.00" r="4.9" fill="#fff" stroke="#1b5cb6" stroke-width="1.45"/>
<circle cx="1170.00" cy="243.90" r="4.9" fill="#fff" stroke="#1b5cb6" stroke-width="1.45"/>
</g>
<rect x="842.00" y="42.85" width="328.00" height="299.70" fill="none" stroke="#1e1e1e" stroke-width="1.8"/>
<path d="M878.44,342.55v5.6M951.33,342.55v5.6M1024.22,342.55v5.6M1097.11,342.55v5.6M1170.00,342.55v5.6M842.00,342.55h-5.6M842.00,282.61h-5.6M842.00,222.67h-5.6M842.00,162.73h-5.6M842.00,102.79h-5.6M842.00,42.85h-5.6" stroke="#1e1e1e" stroke-width="1.5" fill="none"/>
<text class="tk" x="878.44" y="365.75" text-anchor="middle" textLength="38.4" lengthAdjust="spacingAndGlyphs">2020</text>
<text class="tk" x="951.33" y="365.75" text-anchor="middle" textLength="38.4" lengthAdjust="spacingAndGlyphs">2040</text>
<text class="tk" x="1024.22" y="365.75" text-anchor="middle" textLength="38.4" lengthAdjust="spacingAndGlyphs">2060</text>
<text class="tk" x="1097.11" y="365.75" text-anchor="middle" textLength="38.4" lengthAdjust="spacingAndGlyphs">2080</text>
<text class="tk" x="1170.00" y="365.75" text-anchor="middle" textLength="38.4" lengthAdjust="spacingAndGlyphs">2100</text>
<text class="tk" x="831.00" y="348.65" text-anchor="end" textLength="9.6" lengthAdjust="spacingAndGlyphs">0</text>
<text class="tk" x="831.00" y="288.71" text-anchor="end" textLength="9.6" lengthAdjust="spacingAndGlyphs">5</text>
<text class="tk" x="831.00" y="228.77" text-anchor="end" textLength="19.2" lengthAdjust="spacingAndGlyphs">10</text>
<text class="tk" x="831.00" y="168.83" text-anchor="end" textLength="19.2" lengthAdjust="spacingAndGlyphs">15</text>
<text class="tk" x="831.00" y="108.89" text-anchor="end" textLength="19.2" lengthAdjust="spacingAndGlyphs">20</text>
<text class="tk" x="831.00" y="48.95" text-anchor="end" textLength="19.2" lengthAdjust="spacingAndGlyphs">25</text>
<text class="tt" x="1006.30" y="33.65" text-anchor="middle" style="font-size:24.0px" textLength="23.0" lengthAdjust="spacingAndGlyphs">銅</text>
<g clip-path="url(#c3)">
<path d="M88.00,666.00 C100.00,661.95 112.00,651.59 124.00,640.00 C132.67,631.63 141.33,616.07 150.00,604.00 C158.33,592.40 166.67,580.50 175.00,569.00 C183.33,557.50 191.67,546.91 200.00,535.00 C206.67,525.47 213.33,514.31 220.00,505.00 C227.10,495.08 234.20,484.53 241.30,477.20 C248.37,469.91 255.43,462.06 262.50,459.10 C269.60,456.13 276.70,453.20 283.80,453.20 C288.03,453.20 292.27,453.45 296.50,453.80 C302.87,454.32 309.23,459.59 315.60,463.40 C322.70,467.65 329.80,471.90 336.90,479.30 C338.67,481.14 340.43,485.16 342.20,486.80 C345.40,489.77 348.60,490.73 351.80,493.10 C357.47,497.30 363.13,502.71 368.80,508.00 C375.87,514.60 382.93,522.68 390.00,529.30 C398.67,537.42 407.33,545.06 416.00,552.00" fill="none" stroke="#a8caf0" stroke-width="1.2" stroke-linejoin="round"/>
<path d="M88.00,666.00 C100.00,657.83 112.00,649.14 124.00,640.00 C136.00,630.86 148.00,619.43 160.00,611.00 C172.33,602.34 184.67,596.71 197.00,588.00 C204.67,582.58 212.33,575.30 220.00,569.60 C227.10,564.32 234.20,558.95 241.30,554.80 C248.37,550.67 255.43,547.25 262.50,544.10 C269.60,540.94 276.70,537.78 283.80,535.60 C290.87,533.43 297.93,531.49 305.00,530.30 C312.10,529.11 319.20,527.60 326.30,527.60 C333.37,527.60 340.43,527.86 347.50,528.20 C354.60,528.54 361.70,530.07 368.80,531.40 C375.87,532.73 382.93,534.82 390.00,536.70 C398.67,539.00 407.33,541.47 416.00,544.10" fill="none" stroke="#a8caf0" stroke-width="1.2" stroke-linejoin="round"/>
<path d="M88.00,666.00 C100.00,658.00 112.00,649.65 124.00,641.00 C136.00,632.35 148.00,621.54 160.00,614.00 C172.33,606.25 184.67,598.44 197.00,594.00 C208.00,590.04 219.00,587.08 230.00,585.00 C236.67,583.74 243.33,582.00 250.00,582.00 C263.73,582.00 277.47,584.59 291.20,587.60 C308.33,591.35 325.47,610.82 342.60,620.60 C355.07,627.71 367.53,633.92 380.00,640.00 C392.00,645.86 404.00,651.41 416.00,656.60" fill="none" stroke="#a8caf0" stroke-width="1.2" stroke-linejoin="round"/>
<path d="M88.00,666.00 C100.00,658.17 112.00,650.16 124.00,642.00 C136.00,633.84 148.00,623.64 160.00,617.00 C172.33,610.17 184.67,604.20 197.00,600.00 C208.00,596.25 219.00,592.55 230.00,591.00 C236.67,590.06 243.33,589.00 250.00,589.00 C263.73,589.00 277.47,591.14 291.20,593.80 C308.33,597.12 325.47,618.84 342.60,628.80 C355.07,636.04 367.53,642.10 380.00,648.00 C392.00,653.68 404.00,658.97 416.00,663.80" fill="none" stroke="#a8caf0" stroke-width="1.2" stroke-linejoin="round"/>
<path d="M88.00,666.00 C96.60,660.90 105.20,656.02 113.80,651.40 C122.53,646.71 131.27,641.21 140.00,638.00 C147.73,635.16 155.47,631.30 163.20,631.30 C175.53,631.30 187.87,632.51 200.20,633.90 C218.47,635.96 236.73,647.26 255.00,653.50 C266.67,657.48 278.33,661.42 290.00,665.00 C304.10,669.32 318.20,673.70 332.30,677.10 C344.87,680.13 357.43,682.67 370.00,685.00 C385.33,687.84 400.67,690.44 416.00,692.60" fill="none" stroke="#a8caf0" stroke-width="1.2" stroke-linejoin="round"/>
<path d="M88.00,585.60 C100.00,575.13 112.00,563.83 124.00,552.00 C132.67,543.46 141.33,534.40 150.00,525.00 C153.57,521.13 157.13,516.82 160.70,513.00 C166.67,506.61 172.63,494.80 178.60,494.80 C185.73,494.80 192.87,498.12 200.00,500.00 C205.23,501.38 210.47,501.82 215.70,504.50 C220.47,506.94 225.23,525.14 230.00,535.00 C236.67,548.79 243.33,564.74 250.00,575.00 C256.67,585.26 263.33,591.94 270.00,600.00 C280.00,612.10 290.00,627.10 300.00,635.00 C314.20,646.22 328.40,658.79 342.60,659.70 C355.07,660.50 367.53,660.69 380.00,661.00 C392.00,661.30 404.00,661.56 416.00,661.70" fill="none" stroke="#f2b4d2" stroke-width="1.2" stroke-linejoin="round"/>
<path d="M88.00,585.60 C100.00,575.34 112.00,564.45 124.00,553.00 C136.23,541.33 148.47,526.90 160.70,516.00 C166.67,510.68 172.63,501.40 178.60,501.40 C190.97,501.40 203.33,504.22 215.70,510.00 C221.13,512.54 226.57,534.88 232.00,545.00 C241.33,562.38 250.67,576.78 260.00,590.00 C273.33,608.89 286.67,628.77 300.00,640.00 C314.20,651.96 328.40,665.33 342.60,666.90 C367.07,669.61 391.53,671.00 416.00,671.00" fill="none" stroke="#f2b4d2" stroke-width="1.2" stroke-linejoin="round"/>
<path d="M88.00,585.60 C100.00,575.36 112.00,564.82 124.00,554.00 C136.23,542.97 148.47,524.62 160.70,520.00 C166.67,517.75 172.63,515.40 178.60,515.40 C190.73,515.40 202.87,519.15 215.00,525.00 C223.33,529.02 231.67,556.33 240.00,570.00 C250.00,586.41 260.00,601.88 270.00,615.00 C280.00,628.12 290.00,639.53 300.00,650.00 C314.20,664.87 328.40,685.63 342.60,690.00 C355.07,693.84 367.53,695.57 380.00,697.00 C392.00,698.38 404.00,699.61 416.00,700.00" fill="none" stroke="#f2b4d2" stroke-width="1.2" stroke-linejoin="round"/>
<path d="M88.00,585.60 C95.23,576.61 102.47,569.50 109.70,569.50 C114.50,569.50 119.30,570.13 124.10,570.80 C135.77,572.43 147.43,579.21 159.10,588.70 C163.20,592.04 167.30,600.30 171.40,606.20 C179.63,618.04 187.87,634.61 196.10,642.20 C207.07,652.31 218.03,660.03 229.00,663.80 C237.67,666.78 246.33,667.75 255.00,670.00 C270.00,673.89 285.00,678.43 300.00,683.00 C314.20,687.32 328.40,693.83 342.60,696.70 C367.07,701.65 391.53,706.37 416.00,707.00" fill="none" stroke="#f2b4d2" stroke-width="1.2" stroke-linejoin="round"/>
<path d="M88.00,585.60 C100.00,575.68 112.00,565.12 124.00,554.00 C136.23,542.67 148.47,526.44 160.70,518.00 C166.67,513.88 172.63,508.00 178.60,508.00 C190.73,508.00 202.87,512.20 215.00,518.00 C226.67,523.58 238.33,559.46 250.00,580.00 C263.33,603.48 276.67,629.47 290.00,650.00 C303.33,670.53 316.67,689.92 330.00,705.00 C335.00,710.65 340.00,715.51 345.00,720.00" fill="none" stroke="#f2b4d2" stroke-width="1.2" stroke-linejoin="round"/>
<path d="M88.00,585.60 C94.07,578.98 100.15,573.01 106.22,568.00 C112.30,562.99 118.37,559.15 124.44,554.90 C130.52,550.65 136.59,547.55 142.67,542.50 C148.74,537.45 154.81,523.00 160.89,523.00 C166.96,523.00 173.04,524.12 179.11,525.50 C185.19,526.88 191.26,534.31 197.33,537.40 C203.41,540.49 209.48,541.13 215.56,545.00 C221.63,548.87 227.70,561.45 233.78,569.50 C245.93,585.59 258.07,602.92 270.22,616.90 C282.37,630.88 294.52,642.73 306.67,654.50 C318.81,666.27 330.96,686.13 343.11,687.80 C355.26,689.47 367.41,690.50 379.56,690.50 C391.70,690.50 403.85,690.45 416.00,689.50" fill="none" stroke="#cc3584" stroke-width="4.8" stroke-linejoin="round" stroke-linecap="round"/>
<circle cx="88.00" cy="585.60" r="4.9" fill="#fff" stroke="#cc3584" stroke-width="1.45"/>
<circle cx="124.44" cy="554.90" r="4.9" fill="#fff" stroke="#cc3584" stroke-width="1.45"/>
<circle cx="160.89" cy="523.00" r="4.9" fill="#fff" stroke="#cc3584" stroke-width="1.45"/>
<circle cx="197.33" cy="537.40" r="4.9" fill="#fff" stroke="#cc3584" stroke-width="1.45"/>
<circle cx="233.78" cy="569.50" r="4.9" fill="#fff" stroke="#cc3584" stroke-width="1.45"/>
<circle cx="270.22" cy="616.90" r="4.9" fill="#fff" stroke="#cc3584" stroke-width="1.45"/>
<circle cx="306.67" cy="654.50" r="4.9" fill="#fff" stroke="#cc3584" stroke-width="1.45"/>
<circle cx="343.11" cy="687.80" r="4.9" fill="#fff" stroke="#cc3584" stroke-width="1.45"/>
<circle cx="379.56" cy="690.50" r="4.9" fill="#fff" stroke="#cc3584" stroke-width="1.45"/>
<circle cx="416.00" cy="689.50" r="4.9" fill="#fff" stroke="#cc3584" stroke-width="1.45"/>
<path d="M88.00,666.20 C100.15,657.98 112.30,649.40 124.44,640.50 C136.59,631.60 148.74,620.89 160.89,612.70 C173.04,604.51 185.19,597.48 197.33,590.70 C209.48,583.92 221.63,574.60 233.78,571.80 C245.93,569.00 258.07,566.40 270.22,566.40 C282.37,566.40 294.52,569.96 306.67,573.20 C318.81,576.44 330.96,584.70 343.11,590.30 C355.26,595.90 367.41,601.35 379.56,606.80 C391.70,612.25 403.85,617.65 416.00,623.00" fill="none" stroke="#1b5cb6" stroke-width="4.8" stroke-linejoin="round" stroke-linecap="round"/>
<circle cx="88.00" cy="666.20" r="4.9" fill="#fff" stroke="#1b5cb6" stroke-width="1.45"/>
<circle cx="124.44" cy="640.50" r="4.9" fill="#fff" stroke="#1b5cb6" stroke-width="1.45"/>
<circle cx="160.89" cy="612.70" r="4.9" fill="#fff" stroke="#1b5cb6" stroke-width="1.45"/>
<circle cx="197.33" cy="590.70" r="4.9" fill="#fff" stroke="#1b5cb6" stroke-width="1.45"/>
<circle cx="233.78" cy="571.80" r="4.9" fill="#fff" stroke="#1b5cb6" stroke-width="1.45"/>
<circle cx="270.22" cy="566.40" r="4.9" fill="#fff" stroke="#1b5cb6" stroke-width="1.45"/>
<circle cx="306.67" cy="573.20" r="4.9" fill="#fff" stroke="#1b5cb6" stroke-width="1.45"/>
<circle cx="343.11" cy="590.30" r="4.9" fill="#fff" stroke="#1b5cb6" stroke-width="1.45"/>
<circle cx="379.56" cy="606.80" r="4.9" fill="#fff" stroke="#1b5cb6" stroke-width="1.45"/>
<circle cx="416.00" cy="623.00" r="4.9" fill="#fff" stroke="#1b5cb6" stroke-width="1.45"/>
</g>
<rect x="88.00" y="417.60" width="328.00" height="299.70" fill="none" stroke="#1e1e1e" stroke-width="1.8"/>
<path d="M124.44,717.30v5.6M197.33,717.30v5.6M270.22,717.30v5.6M343.11,717.30v5.6M416.00,717.30v5.6M88.00,717.30h-5.6M88.00,657.36h-5.6M88.00,597.42h-5.6M88.00,537.48h-5.6M88.00,477.54h-5.6M88.00,417.60h-5.6" stroke="#1e1e1e" stroke-width="1.5" fill="none"/>
<text class="tk" x="124.44" y="740.50" text-anchor="middle" textLength="38.4" lengthAdjust="spacingAndGlyphs">2020</text>
<text class="tk" x="197.33" y="740.50" text-anchor="middle" textLength="38.4" lengthAdjust="spacingAndGlyphs">2040</text>
<text class="tk" x="270.22" y="740.50" text-anchor="middle" textLength="38.4" lengthAdjust="spacingAndGlyphs">2060</text>
<text class="tk" x="343.11" y="740.50" text-anchor="middle" textLength="38.4" lengthAdjust="spacingAndGlyphs">2080</text>
<text class="tk" x="416.00" y="740.50" text-anchor="middle" textLength="38.4" lengthAdjust="spacingAndGlyphs">2100</text>
<text class="tk" x="77.00" y="723.40" text-anchor="end" textLength="9.6" lengthAdjust="spacingAndGlyphs">0</text>
<text class="tk" x="77.00" y="663.46" text-anchor="end" textLength="9.6" lengthAdjust="spacingAndGlyphs">5</text>
<text class="tk" x="77.00" y="603.52" text-anchor="end" textLength="19.2" lengthAdjust="spacingAndGlyphs">10</text>
<text class="tk" x="77.00" y="543.58" text-anchor="end" textLength="19.2" lengthAdjust="spacingAndGlyphs">15</text>
<text class="tk" x="77.00" y="483.64" text-anchor="end" textLength="19.2" lengthAdjust="spacingAndGlyphs">20</text>
<text class="tk" x="77.00" y="423.70" text-anchor="end" textLength="19.2" lengthAdjust="spacingAndGlyphs">25</text>
<text class="tt" x="252.30" y="408.40" text-anchor="middle" style="font-size:24.0px" textLength="46.0" lengthAdjust="spacingAndGlyphs">亜鉛</text>
<g clip-path="url(#c4)">
<path d="M465.00,619.50 C477.00,605.01 489.00,586.39 501.00,566.00 C508.40,553.42 515.80,537.57 523.20,523.00 C528.73,512.10 534.27,498.90 539.80,489.80 C545.33,480.70 550.87,471.00 556.40,466.60 C563.60,460.87 570.80,454.90 578.00,454.90 C581.87,454.90 585.73,455.72 589.60,456.60 C595.13,457.86 600.67,462.45 606.20,466.60 C611.73,470.75 617.27,477.58 622.80,483.10 C628.33,488.62 633.87,493.90 639.40,499.70 C644.93,505.50 650.47,512.45 656.00,518.00 C662.63,524.65 669.27,528.81 675.90,536.20 C681.43,542.37 686.97,550.83 692.50,559.50 C696.90,566.40 701.30,575.45 705.70,582.70 C710.13,590.00 714.57,600.10 719.00,603.30 C724.53,607.29 730.07,608.25 735.60,610.90 C742.23,614.07 748.87,617.85 755.50,620.90 C768.00,626.65 780.50,632.01 793.00,636.50" fill="none" stroke="#a8caf0" stroke-width="1.2" stroke-linejoin="round"/>
<path d="M465.00,619.50 C477.00,600.74 489.00,583.03 501.00,566.00 C507.33,557.01 513.67,547.43 520.00,540.00 C526.60,532.26 533.20,526.72 539.80,519.70 C545.33,513.81 550.87,506.13 556.40,501.40 C561.93,496.67 567.47,492.13 573.00,489.80 C578.53,487.47 584.07,484.80 589.60,484.80 C595.13,484.80 600.67,485.60 606.20,486.50 C611.73,487.40 617.27,490.30 622.80,493.10 C628.33,495.90 633.87,500.67 639.40,504.70 C643.80,507.90 648.20,511.10 652.60,514.70 C658.13,519.23 663.67,525.09 669.20,529.60 C673.63,533.22 678.07,534.94 682.50,539.60 C686.93,544.26 691.37,555.04 695.80,562.80 C700.20,570.50 704.60,578.50 709.00,586.00 C712.33,591.68 715.67,599.53 719.00,602.60 C724.53,607.69 730.07,609.32 735.60,612.60 C742.23,616.53 748.87,620.74 755.50,624.20 C768.00,630.72 780.50,636.73 793.00,641.50" fill="none" stroke="#a8caf0" stroke-width="1.2" stroke-linejoin="round"/>
<path d="M465.00,619.50 C477.00,599.58 489.00,581.70 501.00,567.00 C513.00,552.30 525.00,537.64 537.00,529.00 C544.67,523.48 552.33,517.12 560.00,516.00 C564.87,515.29 569.73,514.70 574.60,514.70 C583.07,514.70 591.53,523.84 600.00,530.00 C610.67,537.76 621.33,549.32 632.00,560.00 C641.33,569.35 650.67,580.34 660.00,590.00 C670.00,600.35 680.00,611.94 690.00,620.00 C699.87,627.95 709.73,634.34 719.60,640.00 C731.73,646.97 743.87,653.78 756.00,658.00 C768.33,662.29 780.67,666.01 793.00,667.90" fill="none" stroke="#a8caf0" stroke-width="1.2" stroke-linejoin="round"/>
<path d="M465.00,619.50 C477.00,599.25 489.00,581.24 501.00,567.00 C513.00,552.76 525.00,539.04 537.00,531.00 C544.67,525.86 552.33,519.88 560.00,519.00 C564.87,518.44 569.73,518.00 574.60,518.00 C583.07,518.00 591.53,528.43 600.00,535.00 C610.67,543.28 621.33,554.39 632.00,565.00 C643.00,575.94 654.00,589.56 665.00,600.00 C676.67,611.07 688.33,621.28 700.00,630.00 C710.00,637.48 720.00,644.51 730.00,650.00 C740.00,655.49 750.00,660.54 760.00,664.00 C771.00,667.80 782.00,671.12 793.00,673.00" fill="none" stroke="#a8caf0" stroke-width="1.2" stroke-linejoin="round"/>
<path d="M465.00,619.50 C477.00,595.05 489.00,575.86 501.00,566.00 C508.40,559.92 515.80,555.24 523.20,552.80 C528.73,550.97 534.27,548.90 539.80,548.90 C545.33,548.90 550.87,549.97 556.40,551.20 C561.70,552.38 567.00,556.44 572.30,560.00 C582.37,566.76 592.43,578.38 602.50,587.50 C611.67,595.81 620.83,605.09 630.00,612.30 C639.17,619.51 648.33,625.58 657.50,631.50 C666.67,637.42 675.83,642.99 685.00,648.00 C694.17,653.01 703.33,657.72 712.50,661.80 C721.67,665.88 730.83,670.00 740.00,672.80 C757.67,678.19 775.33,683.04 793.00,685.30" fill="none" stroke="#a8caf0" stroke-width="1.2" stroke-linejoin="round"/>
<path d="M465.00,606.00 C470.67,601.45 476.33,597.42 482.00,595.00 C488.33,592.29 494.67,590.60 501.00,589.00 C507.33,587.40 513.67,586.44 520.00,585.00 C525.97,583.65 531.93,580.60 537.90,580.60 C543.93,580.60 549.97,593.10 556.00,600.00 C562.33,607.24 568.67,616.41 575.00,623.30 C580.67,629.47 586.33,635.29 592.00,640.00 C598.27,645.21 604.53,649.16 610.80,653.50 C616.53,657.47 622.27,661.48 628.00,665.00 C634.17,668.79 640.33,672.44 646.50,675.50 C659.33,681.87 672.17,688.95 685.00,692.00 C696.00,694.61 707.00,697.50 718.00,697.50 C732.00,697.50 746.00,697.24 760.00,697.00 C771.00,696.81 782.00,696.42 793.00,696.00" fill="none" stroke="#f2b4d2" stroke-width="1.2" stroke-linejoin="round"/>
<path d="M465.00,606.00 C472.90,599.91 480.80,597.90 488.70,597.90 C495.80,597.90 502.90,604.38 510.00,608.00 C519.37,612.77 528.73,616.13 538.10,623.60 C543.73,628.09 549.37,638.21 555.00,645.00 C561.03,652.27 567.07,661.36 573.10,665.80 C578.73,669.94 584.37,672.53 590.00,675.00 C596.70,677.94 603.40,679.56 610.10,682.30 C617.40,685.29 624.70,690.07 632.00,692.60 C648.00,698.14 664.00,701.68 680.00,705.00 C693.33,707.77 706.67,711.63 720.00,712.00 C744.33,712.67 768.67,713.00 793.00,713.00" fill="none" stroke="#f2b4d2" stroke-width="1.2" stroke-linejoin="round"/>
<path d="M465.00,606.00 C470.67,601.80 476.33,598.08 482.00,596.00 C488.33,593.68 494.67,592.18 501.00,591.00 C513.23,588.73 525.47,586.00 537.70,586.00 C545.13,586.00 552.57,616.07 560.00,625.00 C564.57,630.49 569.13,634.08 573.70,638.00 C586.00,648.55 598.30,658.64 610.60,666.00 C622.73,673.26 634.87,678.94 647.00,684.00 C659.00,689.01 671.00,694.29 683.00,697.00 C695.20,699.75 707.40,703.00 719.60,703.00 C744.07,703.00 768.53,703.00 793.00,700.00" fill="none" stroke="#f2b4d2" stroke-width="1.2" stroke-linejoin="round"/>
<path d="M465.00,606.20 C471.07,600.70 477.15,595.69 483.22,594.50 C489.30,593.31 495.37,592.62 501.44,592.40 C513.59,591.97 525.74,591.70 537.89,591.70 C550.04,591.70 562.19,627.99 574.33,640.50 C586.48,653.01 598.63,663.59 610.78,671.00 C622.93,678.41 635.07,683.78 647.22,688.50 C659.37,693.22 671.52,697.57 683.67,700.40 C695.81,703.23 707.96,707.00 720.11,707.00 C732.26,707.00 744.41,705.94 756.56,705.50 C768.70,705.06 780.85,704.65 793.00,704.30" fill="none" stroke="#cc3584" stroke-width="4.8" stroke-linejoin="round" stroke-linecap="round"/>
<circle cx="465.00" cy="606.20" r="4.9" fill="#fff" stroke="#cc3584" stroke-width="1.45"/>
<circle cx="501.44" cy="592.40" r="4.9" fill="#fff" stroke="#cc3584" stroke-width="1.45"/>
<circle cx="537.89" cy="591.70" r="4.9" fill="#fff" stroke="#cc3584" stroke-width="1.45"/>
<circle cx="574.33" cy="640.50" r="4.9" fill="#fff" stroke="#cc3584" stroke-width="1.45"/>
<circle cx="610.78" cy="671.00" r="4.9" fill="#fff" stroke="#cc3584" stroke-width="1.45"/>
<circle cx="647.22" cy="688.50" r="4.9" fill="#fff" stroke="#cc3584" stroke-width="1.45"/>
<circle cx="683.67" cy="700.40" r="4.9" fill="#fff" stroke="#cc3584" stroke-width="1.45"/>
<circle cx="720.11" cy="707.00" r="4.9" fill="#fff" stroke="#cc3584" stroke-width="1.45"/>
<circle cx="756.56" cy="705.50" r="4.9" fill="#fff" stroke="#cc3584" stroke-width="1.45"/>
<circle cx="793.00" cy="704.30" r="4.9" fill="#fff" stroke="#cc3584" stroke-width="1.45"/>
<path d="M465.00,619.50 C477.15,599.67 489.30,581.67 501.44,566.40 C513.59,551.13 525.74,534.43 537.89,526.10 C550.04,517.77 562.19,508.00 574.33,508.00 C586.48,508.00 598.63,519.90 610.78,528.20 C622.93,536.50 635.07,549.83 647.22,560.70 C659.37,571.57 671.52,581.77 683.67,593.40 C695.81,605.03 707.96,622.34 720.11,630.80 C732.26,639.26 744.41,645.26 756.56,650.00 C768.70,654.74 780.85,658.85 793.00,661.30" fill="none" stroke="#1b5cb6" stroke-width="4.8" stroke-linejoin="round" stroke-linecap="round"/>
<circle cx="465.00" cy="619.50" r="4.9" fill="#fff" stroke="#1b5cb6" stroke-width="1.45"/>
<circle cx="501.44" cy="566.40" r="4.9" fill="#fff" stroke="#1b5cb6" stroke-width="1.45"/>
<circle cx="537.89" cy="526.10" r="4.9" fill="#fff" stroke="#1b5cb6" stroke-width="1.45"/>
<circle cx="574.33" cy="508.00" r="4.9" fill="#fff" stroke="#1b5cb6" stroke-width="1.45"/>
<circle cx="610.78" cy="528.20" r="4.9" fill="#fff" stroke="#1b5cb6" stroke-width="1.45"/>
<circle cx="647.22" cy="560.70" r="4.9" fill="#fff" stroke="#1b5cb6" stroke-width="1.45"/>
<circle cx="683.67" cy="593.40" r="4.9" fill="#fff" stroke="#1b5cb6" stroke-width="1.45"/>
<circle cx="720.11" cy="630.80" r="4.9" fill="#fff" stroke="#1b5cb6" stroke-width="1.45"/>
<circle cx="756.56" cy="650.00" r="4.9" fill="#fff" stroke="#1b5cb6" stroke-width="1.45"/>
<circle cx="793.00" cy="661.30" r="4.9" fill="#fff" stroke="#1b5cb6" stroke-width="1.45"/>
</g>
<rect x="465.00" y="417.60" width="328.00" height="299.70" fill="none" stroke="#1e1e1e" stroke-width="1.8"/>
<path d="M501.44,717.30v5.6M574.33,717.30v5.6M647.22,717.30v5.6M720.11,717.30v5.6M793.00,717.30v5.6M465.00,717.30h-5.6M465.00,674.49h-5.6M465.00,631.67h-5.6M465.00,588.86h-5.6M465.00,546.04h-5.6M465.00,503.23h-5.6M465.00,460.41h-5.6M465.00,417.60h-5.6" stroke="#1e1e1e" stroke-width="1.5" fill="none"/>
<text class="tk" x="501.44" y="740.50" text-anchor="middle" textLength="38.4" lengthAdjust="spacingAndGlyphs">2020</text>
<text class="tk" x="574.33" y="740.50" text-anchor="middle" textLength="38.4" lengthAdjust="spacingAndGlyphs">2040</text>
<text class="tk" x="647.22" y="740.50" text-anchor="middle" textLength="38.4" lengthAdjust="spacingAndGlyphs">2060</text>
<text class="tk" x="720.11" y="740.50" text-anchor="middle" textLength="38.4" lengthAdjust="spacingAndGlyphs">2080</text>
<text class="tk" x="793.00" y="740.50" text-anchor="middle" textLength="38.4" lengthAdjust="spacingAndGlyphs">2100</text>
<text class="tk" x="454.00" y="723.40" text-anchor="end" textLength="9.6" lengthAdjust="spacingAndGlyphs">0</text>
<text class="tk" x="454.00" y="680.59" text-anchor="end" textLength="9.6" lengthAdjust="spacingAndGlyphs">2</text>
<text class="tk" x="454.00" y="637.77" text-anchor="end" textLength="9.6" lengthAdjust="spacingAndGlyphs">4</text>
<text class="tk" x="454.00" y="594.96" text-anchor="end" textLength="9.6" lengthAdjust="spacingAndGlyphs">6</text>
<text class="tk" x="454.00" y="552.14" text-anchor="end" textLength="9.6" lengthAdjust="spacingAndGlyphs">8</text>
<text class="tk" x="454.00" y="509.33" text-anchor="end" textLength="19.2" lengthAdjust="spacingAndGlyphs">10</text>
<text class="tk" x="454.00" y="466.51" text-anchor="end" textLength="19.2" lengthAdjust="spacingAndGlyphs">12</text>
<text class="tk" x="454.00" y="423.70" text-anchor="end" textLength="19.2" lengthAdjust="spacingAndGlyphs">14</text>
<text class="tt" x="629.30" y="408.40" text-anchor="middle" style="font-size:24.0px" textLength="23.0" lengthAdjust="spacingAndGlyphs">鉛</text>
<g clip-path="url(#c5)">
<path d="M842.00,674.70 C854.00,670.50 866.00,662.81 878.00,654.00 C888.67,646.17 899.33,632.98 910.00,622.00 C919.47,612.25 928.93,602.55 938.40,591.90 C948.13,580.95 957.87,568.06 967.60,556.90 C977.37,545.70 987.13,534.64 996.90,524.70 C1006.63,514.79 1016.37,504.85 1026.10,497.00 C1035.83,489.15 1045.57,482.18 1055.30,476.50 C1065.03,470.82 1074.77,465.14 1084.50,461.90 C1094.23,458.66 1103.97,455.95 1113.70,454.60 C1121.50,453.52 1129.30,452.30 1137.10,452.30 C1148.07,452.30 1159.03,452.38 1170.00,453.80" fill="none" stroke="#a8caf0" stroke-width="1.2" stroke-linejoin="round"/>
<path d="M842.00,674.70 C854.00,668.91 866.00,661.83 878.00,654.00 C888.67,647.04 899.33,636.51 910.00,630.00 C919.47,624.22 928.93,617.72 938.40,615.30 C948.93,612.61 959.47,611.07 970.00,610.00 C978.97,609.09 987.93,608.60 996.90,608.00 C1001.77,607.67 1006.63,607.10 1011.50,607.10 C1024.33,607.10 1037.17,610.61 1050.00,613.00 C1061.50,615.14 1073.00,618.50 1084.50,621.10 C1099.67,624.53 1114.83,627.91 1130.00,631.00 C1143.33,633.72 1156.67,636.29 1170.00,638.70" fill="none" stroke="#a8caf0" stroke-width="1.2" stroke-linejoin="round"/>
<path d="M842.00,674.70 C854.00,668.40 866.00,661.84 878.00,655.00 C892.00,647.03 906.00,637.57 920.00,630.00 C935.87,621.42 951.73,613.63 967.60,606.50 C978.40,601.65 989.20,597.28 1000.00,593.00 C1008.70,589.55 1017.40,586.42 1026.10,583.10 C1035.73,579.42 1045.37,575.34 1055.00,572.00 C1064.83,568.59 1074.67,565.44 1084.50,562.70 C1094.23,559.99 1103.97,557.05 1113.70,555.40 C1122.47,553.91 1131.23,552.67 1140.00,552.00 C1150.00,551.24 1160.00,550.53 1170.00,550.40" fill="none" stroke="#a8caf0" stroke-width="1.2" stroke-linejoin="round"/>
<path d="M842.00,674.70 C854.00,669.02 866.00,661.93 878.00,654.00 C890.00,646.07 902.00,634.21 914.00,626.00 C926.00,617.79 938.00,611.23 950.00,604.00 C962.33,596.57 974.67,588.39 987.00,582.00 C999.33,575.61 1011.67,567.65 1024.00,565.00 C1036.37,562.34 1048.73,559.80 1061.10,559.80 C1070.73,559.80 1080.37,560.33 1090.00,561.00 C1097.90,561.55 1105.80,564.02 1113.70,565.60 C1132.47,569.35 1151.23,573.22 1170.00,577.30" fill="none" stroke="#a8caf0" stroke-width="1.2" stroke-linejoin="round"/>
<path d="M842.00,674.70 C854.00,668.85 866.00,661.81 878.00,654.00 C890.00,646.19 902.00,635.08 914.00,627.00 C926.00,618.92 938.00,612.06 950.00,605.00 C962.33,597.74 974.67,590.05 987.00,584.00 C999.33,577.95 1011.67,570.54 1024.00,568.00 C1036.33,565.46 1048.67,563.00 1061.00,563.00 C1070.67,563.00 1080.33,565.88 1090.00,568.00 C1097.90,569.74 1105.80,572.74 1113.70,575.00 C1132.47,580.37 1151.23,585.60 1170.00,590.50" fill="none" stroke="#a8caf0" stroke-width="1.2" stroke-linejoin="round"/>
<path d="M842.00,628.80 C854.00,619.06 866.00,610.18 878.00,602.00 C885.33,597.00 892.67,593.89 900.00,588.00 C905.03,583.96 910.07,572.56 915.10,572.20 C920.60,571.81 926.10,571.60 931.60,571.60 C943.27,571.60 954.93,575.72 966.60,580.40 C974.40,583.53 982.20,594.70 990.00,600.00 C994.67,603.17 999.33,605.07 1004.00,608.20 C1010.87,612.80 1017.73,619.49 1024.60,624.70 C1036.40,633.66 1048.20,641.68 1060.00,650.00 C1071.50,658.11 1083.00,670.86 1094.50,674.00 C1106.33,677.23 1118.17,678.53 1130.00,680.00 C1143.33,681.66 1156.67,683.11 1170.00,683.90" fill="none" stroke="#f2b4d2" stroke-width="1.2" stroke-linejoin="round"/>
<path d="M842.00,628.80 C854.00,620.11 866.00,611.34 878.00,602.50 C890.33,593.41 902.67,575.00 915.00,575.00 C920.53,575.00 926.07,575.00 931.60,575.00 C943.27,575.00 954.93,579.31 966.60,584.00 C976.07,587.80 985.53,601.09 995.00,608.00 C1004.87,615.21 1014.73,620.37 1024.60,627.00 C1036.40,634.92 1048.20,643.73 1060.00,652.00 C1071.50,660.06 1083.00,673.20 1094.50,676.00 C1119.67,682.12 1144.83,686.00 1170.00,686.00" fill="none" stroke="#f2b4d2" stroke-width="1.2" stroke-linejoin="round"/>
<path d="M842.00,628.80 C849.90,621.65 857.80,614.40 865.70,614.40 C877.37,614.40 889.03,616.50 900.70,618.90 C908.93,620.59 917.17,624.82 925.40,629.80 C933.63,634.78 941.87,648.59 950.10,653.50 C962.43,660.85 974.77,664.81 987.10,668.90 C994.40,671.32 1001.70,673.09 1009.00,675.10 C1022.67,678.86 1036.33,682.55 1050.00,686.00 C1064.83,689.75 1079.67,695.49 1094.50,696.70 C1106.33,697.67 1118.17,698.03 1130.00,698.50 C1143.33,699.03 1156.67,699.50 1170.00,699.80" fill="none" stroke="#f2b4d2" stroke-width="1.2" stroke-linejoin="round"/>
<path d="M842.00,628.80 C854.15,619.62 866.30,611.16 878.44,603.70 C890.59,596.24 902.74,583.50 914.89,583.50 C920.96,583.50 927.04,584.47 933.11,585.60 C939.19,586.73 945.26,591.33 951.33,594.40 C963.48,600.55 975.63,606.74 987.78,614.00 C999.93,621.26 1012.07,630.74 1024.22,638.50 C1036.37,646.26 1048.52,653.40 1060.67,660.70 C1072.81,668.00 1084.96,679.55 1097.11,682.30 C1109.26,685.05 1121.41,686.22 1133.56,687.40 C1145.70,688.58 1157.85,689.60 1170.00,690.10" fill="none" stroke="#cc3584" stroke-width="4.8" stroke-linejoin="round" stroke-linecap="round"/>
<circle cx="842.00" cy="628.80" r="4.9" fill="#fff" stroke="#cc3584" stroke-width="1.45"/>
<circle cx="878.44" cy="603.70" r="4.9" fill="#fff" stroke="#cc3584" stroke-width="1.45"/>
<circle cx="914.89" cy="583.50" r="4.9" fill="#fff" stroke="#cc3584" stroke-width="1.45"/>
<circle cx="951.33" cy="594.40" r="4.9" fill="#fff" stroke="#cc3584" stroke-width="1.45"/>
<circle cx="987.78" cy="614.00" r="4.9" fill="#fff" stroke="#cc3584" stroke-width="1.45"/>
<circle cx="1024.22" cy="638.50" r="4.9" fill="#fff" stroke="#cc3584" stroke-width="1.45"/>
<circle cx="1060.67" cy="660.70" r="4.9" fill="#fff" stroke="#cc3584" stroke-width="1.45"/>
<circle cx="1097.11" cy="682.30" r="4.9" fill="#fff" stroke="#cc3584" stroke-width="1.45"/>
<circle cx="1133.56" cy="687.40" r="4.9" fill="#fff" stroke="#cc3584" stroke-width="1.45"/>
<circle cx="1170.00" cy="690.10" r="4.9" fill="#fff" stroke="#cc3584" stroke-width="1.45"/>
<path d="M842.00,674.70 C854.15,669.03 866.30,661.99 878.44,654.10 C890.59,646.21 902.74,634.53 914.89,626.30 C927.04,618.07 939.19,611.57 951.33,604.10 C963.48,596.63 975.63,588.46 987.78,581.50 C999.93,574.54 1012.07,565.94 1024.22,562.10 C1036.37,558.26 1048.52,554.75 1060.67,553.90 C1072.81,553.05 1084.96,552.40 1097.11,552.40 C1109.26,552.40 1121.41,554.09 1133.56,555.50 C1145.70,556.91 1157.85,559.32 1170.00,562.10" fill="none" stroke="#1b5cb6" stroke-width="4.8" stroke-linejoin="round" stroke-linecap="round"/>
<circle cx="842.00" cy="674.70" r="4.9" fill="#fff" stroke="#1b5cb6" stroke-width="1.45"/>
<circle cx="878.44" cy="654.10" r="4.9" fill="#fff" stroke="#1b5cb6" stroke-width="1.45"/>
<circle cx="914.89" cy="626.30" r="4.9" fill="#fff" stroke="#1b5cb6" stroke-width="1.45"/>
<circle cx="951.33" cy="604.10" r="4.9" fill="#fff" stroke="#1b5cb6" stroke-width="1.45"/>
<circle cx="987.78" cy="581.50" r="4.9" fill="#fff" stroke="#1b5cb6" stroke-width="1.45"/>
<circle cx="1024.22" cy="562.10" r="4.9" fill="#fff" stroke="#1b5cb6" stroke-width="1.45"/>
<circle cx="1060.67" cy="553.90" r="4.9" fill="#fff" stroke="#1b5cb6" stroke-width="1.45"/>
<circle cx="1097.11" cy="552.40" r="4.9" fill="#fff" stroke="#1b5cb6" stroke-width="1.45"/>
<circle cx="1133.56" cy="555.50" r="4.9" fill="#fff" stroke="#1b5cb6" stroke-width="1.45"/>
<circle cx="1170.00" cy="562.10" r="4.9" fill="#fff" stroke="#1b5cb6" stroke-width="1.45"/>
</g>
<rect x="842.00" y="417.60" width="328.00" height="299.70" fill="none" stroke="#1e1e1e" stroke-width="1.8"/>
<path d="M878.44,717.30v5.6M951.33,717.30v5.6M1024.22,717.30v5.6M1097.11,717.30v5.6M1170.00,717.30v5.6M842.00,717.30h-5.6M842.00,657.36h-5.6M842.00,597.42h-5.6M842.00,537.48h-5.6M842.00,477.54h-5.6M842.00,417.60h-5.6" stroke="#1e1e1e" stroke-width="1.5" fill="none"/>
<text class="tk" x="878.44" y="740.50" text-anchor="middle" textLength="38.4" lengthAdjust="spacingAndGlyphs">2020</text>
<text class="tk" x="951.33" y="740.50" text-anchor="middle" textLength="38.4" lengthAdjust="spacingAndGlyphs">2040</text>
<text class="tk" x="1024.22" y="740.50" text-anchor="middle" textLength="38.4" lengthAdjust="spacingAndGlyphs">2060</text>
<text class="tk" x="1097.11" y="740.50" text-anchor="middle" textLength="38.4" lengthAdjust="spacingAndGlyphs">2080</text>
<text class="tk" x="1170.00" y="740.50" text-anchor="middle" textLength="38.4" lengthAdjust="spacingAndGlyphs">2100</text>
<text class="tk" x="831.00" y="723.40" text-anchor="end" textLength="9.6" lengthAdjust="spacingAndGlyphs">0</text>
<text class="tk" x="831.00" y="663.46" text-anchor="end" textLength="9.6" lengthAdjust="spacingAndGlyphs">1</text>
<text class="tk" x="831.00" y="603.52" text-anchor="end" textLength="9.6" lengthAdjust="spacingAndGlyphs">2</text>
<text class="tk" x="831.00" y="543.58" text-anchor="end" textLength="9.6" lengthAdjust="spacingAndGlyphs">3</text>
<text class="tk" x="831.00" y="483.64" text-anchor="end" textLength="9.6" lengthAdjust="spacingAndGlyphs">4</text>
<text class="tk" x="831.00" y="423.70" text-anchor="end" textLength="9.6" lengthAdjust="spacingAndGlyphs">5</text>
<text class="tt" x="1006.30" y="407.20" text-anchor="middle" style="font-size:21.5px" textLength="93.0" lengthAdjust="spacing">ニッケル</text>
<text class="yl" transform="translate(28,279.20) rotate(-90)" textLength="100.6" lengthAdjust="spacingAndGlyphs">年間生産量</text>
<text class="yl" transform="translate(28,171.50) rotate(-90)" textLength="63.5" lengthAdjust="spacingAndGlyphs">(Mt/yr)</text>
<text class="yl" transform="translate(28,653.95) rotate(-90)" textLength="100.6" lengthAdjust="spacingAndGlyphs">年間生産量</text>
<text class="yl" transform="translate(28,546.25) rotate(-90)" textLength="63.5" lengthAdjust="spacingAndGlyphs">(Mt/yr)</text>
<text class="an" x="256.2" y="132.4" fill="#1f57ad" textLength="140.5" lengthAdjust="spacing">スクラップ利用</text>
<text class="an" x="330.9" y="306.8" fill="#c2307c" textLength="82" lengthAdjust="spacing">鉱石利用</text>
</svg></body></html>
